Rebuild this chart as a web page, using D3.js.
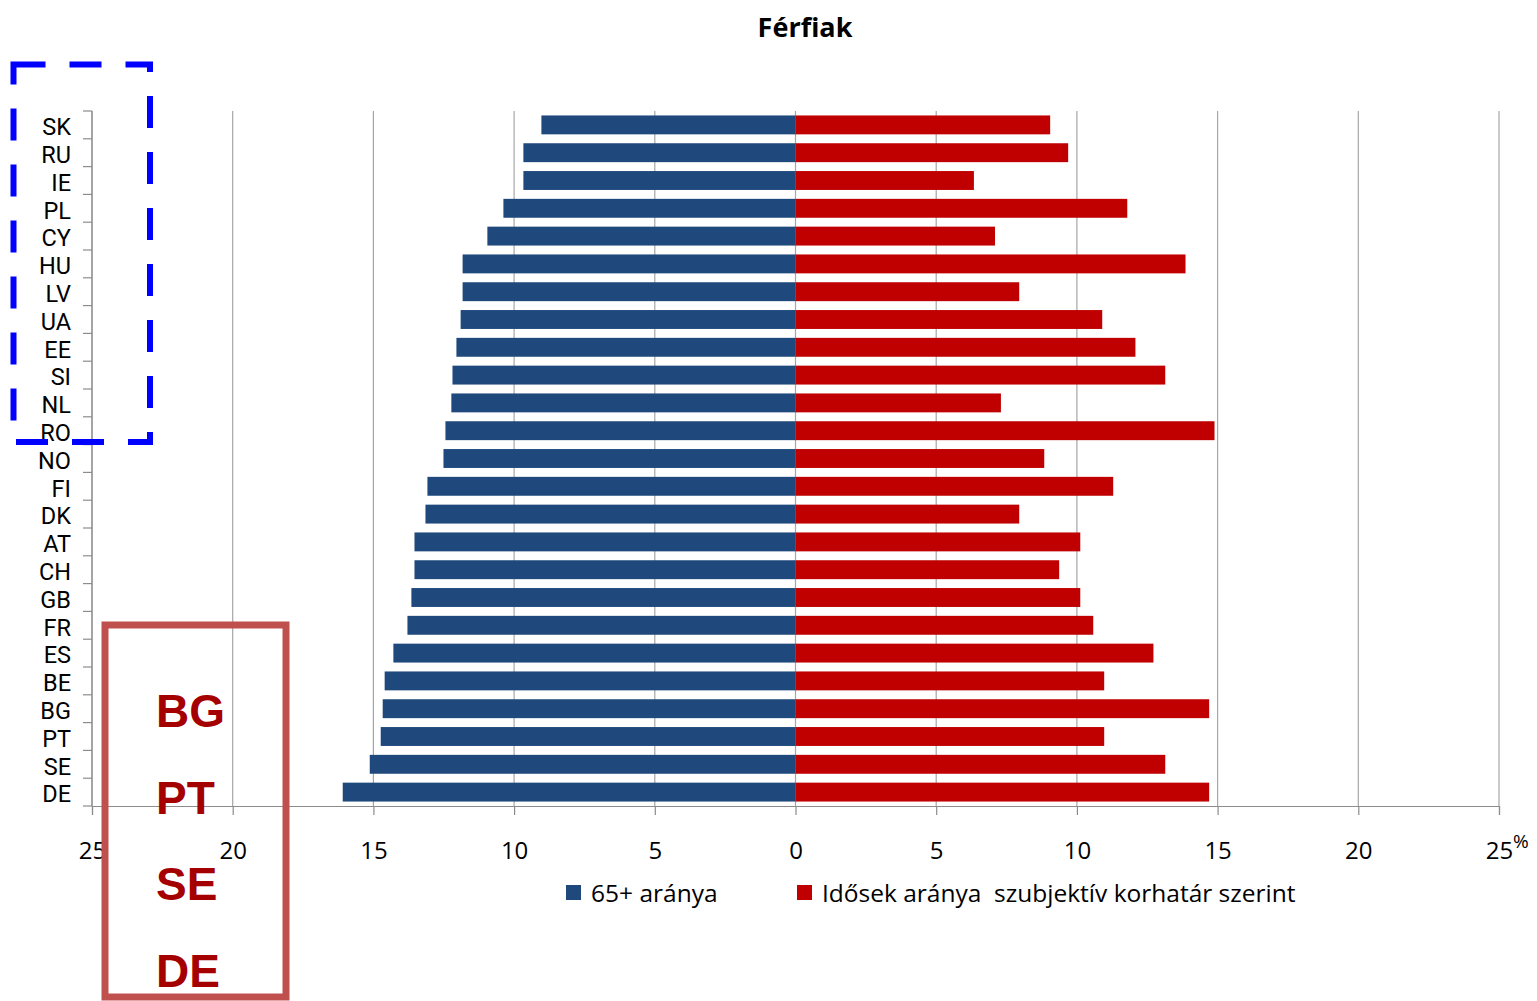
<!DOCTYPE html>
<html><head><meta charset="utf-8">
<script src="https://cdn.jsdelivr.net/npm/d3@7"></script>
<style>body{margin:0;background:#fff}svg{display:block}</style>
</head><body>
<svg id="c" width="1537" height="1001"></svg>
<script>
const categories = ["SK","RU","IE","PL","CY","HU","LV","UA","EE","SI","NL","RO","NO","FI","DK","AT","CH","GB","FR","ES","BE","BG","PT","SE","DE"];
const share65 = [9.03,9.67,9.67,10.38,10.95,11.83,11.83,11.9,12.05,12.19,12.23,12.44,12.51,13.08,13.15,13.54,13.54,13.65,13.79,14.29,14.6,14.67,14.74,15.13,16.09];
const shareSubjective = [9.05,9.69,6.34,11.79,7.09,13.86,7.95,10.9,12.08,13.14,7.3,14.89,8.84,11.29,7.95,10.12,9.37,10.12,10.58,12.72,10.97,14.7,10.97,13.14,14.7];
const xTicks = [-25,-20,-15,-10,-5,0,5,10,15,20,25];
const seriesNames = ["65+ aránya","Idősek aránya  szubjektív korhatár szerint"];
const highlighted = ["BG","PT","SE","DE"];
const title = "Férfiak";

const svg = d3.select("#c");
const font = "'Open Sans', sans-serif";
const labelFont = "Roboto, 'Open Sans', sans-serif";
const x = d3.scaleLinear().domain([-25,25]).range([92,1499]);
const y = d3.scaleBand().domain(categories).range([111,806]).paddingInner(0.32).paddingOuter(0.16);

// gridlines
svg.append("g").selectAll("line").data(xTicks).join("line")
  .attr("x1",d=>x(d)).attr("x2",d=>x(d)).attr("y1",111).attr("y2",806)
  .attr("stroke","#a6a6a6").attr("stroke-width",1.2);

// bars
svg.append("g").selectAll("rect").data(categories).join("rect")
  .attr("x",(d,i)=>x(-share65[i])).attr("width",(d,i)=>x(0)-x(-share65[i]))
  .attr("y",d=>y(d)).attr("height",y.bandwidth()).attr("fill","#1f497d");
svg.append("g").selectAll("rect").data(categories).join("rect")
  .attr("x",x(0)).attr("width",(d,i)=>x(shareSubjective[i])-x(0))
  .attr("y",d=>y(d)).attr("height",y.bandwidth()).attr("fill","#c00000");

// x axis
const xAxis = d3.axisBottom(x).tickValues(xTicks).tickFormat(d=>Math.abs(d)).tickSize(9).tickPadding(27);
const gx = svg.append("g").attr("transform","translate(0,806)").call(xAxis);
gx.select(".domain").attr("stroke","#8c8c8c").attr("stroke-width",1.2);
gx.selectAll(".tick line").attr("stroke","#8c8c8c").attr("stroke-width",1.2);
gx.selectAll(".tick text").attr("font-family",font).attr("font-size",24).attr("fill","#000");
svg.append("text").attr("x",1513).attr("y",848).attr("font-family",font).attr("font-size",19).text("%");

// y axis
const gy = svg.append("g").attr("transform","translate(92,0)");
gy.append("line").attr("x1",0).attr("x2",0).attr("y1",111).attr("y2",806).attr("stroke","#8c8c8c").attr("stroke-width",1.2);
const bounds = categories.map(c=>y(c)-y.step()*y.paddingInner()/2).concat([806]);
bounds[0] = 111;
gy.selectAll("line.t").data(bounds).join("line").attr("class","t")
  .attr("x1",-9).attr("x2",0).attr("y1",d=>d).attr("y2",d=>d).attr("stroke","#8c8c8c").attr("stroke-width",1.2);
gy.selectAll("text").data(categories).join("text")
  .attr("x",-21).attr("y",d=>y(d)+y.bandwidth()/2+2).attr("dy","0.35em")
  .attr("text-anchor","end").attr("font-family",labelFont).attr("font-size",23.5).text(d=>d);

// title
svg.append("text").attr("x",805).attr("y",37).attr("text-anchor","middle")
  .attr("font-family",font).attr("font-weight","bold").attr("font-size",27).text(title);

// legend
const lg = svg.append("g");
lg.append("rect").attr("x",566).attr("y",885).attr("width",15).attr("height",15).attr("fill","#1f497d");
lg.append("text").attr("x",591).attr("y",902).attr("font-family",font).attr("font-size",24.5).text(seriesNames[0]);
lg.append("rect").attr("x",797).attr("y",885).attr("width",15).attr("height",15).attr("fill","#c00000");
lg.append("text").attr("x",822).attr("y",902).attr("font-family",font).attr("font-size",24.5).style("white-space","pre").text(seriesNames[1]);

// blue dashed box
svg.append("rect").attr("x",13.5).attr("y",64.5).attr("width",136.5).attr("height",377.5)
  .attr("fill","none").attr("stroke","#0000ff").attr("stroke-width",6).attr("stroke-dasharray","32,24");

// red box with labels
svg.append("rect").attr("x",105).attr("y",625).attr("width",181).attr("height",372)
  .attr("fill","none").attr("stroke","#c0504d").attr("stroke-width",7);
svg.append("g").selectAll("text").data(highlighted).join("text")
  .attr("x",156).attr("y",(d,i)=>727+i*86.7).attr("font-family","'Liberation Sans', Arial, sans-serif")
  .attr("font-weight","bold").attr("font-size",46).attr("fill","#a50000").text(d=>d);
</script>
</body></html>
